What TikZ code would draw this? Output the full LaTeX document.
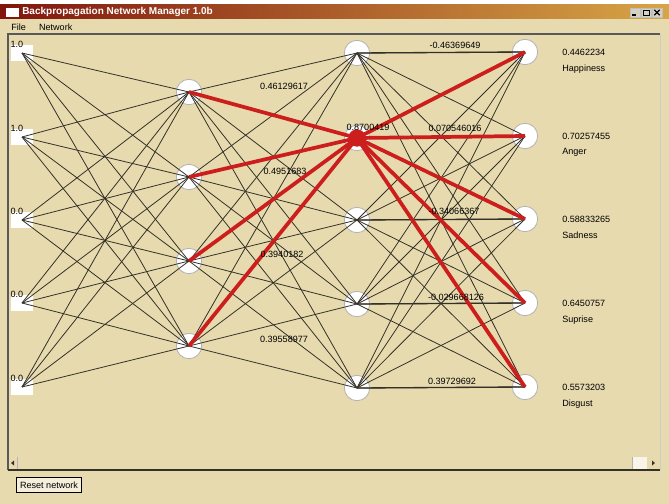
\documentclass[tikz,border=0pt]{standalone}
\usepackage{fontspec}
\setmainfont{Liberation Sans}
\usetikzlibrary{positioning}

\definecolor{panel}{RGB}{231,218,175}
\definecolor{wire}{RGB}{52,50,40}
\definecolor{hot}{RGB}{204,30,28}
\definecolor{barleft}{RGB}{128,22,14}
\definecolor{barright}{RGB}{215,165,70}
\definecolor{btn}{RGB}{214,208,196}

\tikzset{
  unit/.style={circle, draw=gray!60, line width=0.6pt, fill=white, minimum size=19pt, inner sep=0pt},
  inbox/.style={rectangle, fill=white, minimum width=17pt, minimum height=12pt, inner sep=0pt},
  small/.style={font=\fontsize{6.8}{8}\selectfont, inner sep=0pt},
  link/.style={wire, line width=0.6pt},
  rowlink/.style={wire, line width=1pt},
  hotlink/.style={hot, line width=2.8pt},
  outval/.style={small, anchor=west},
  winbtn/.style={rectangle, draw=gray!50, fill=btn, minimum width=7.5pt, minimum height=7pt, inner sep=0pt},
}

\begin{document}
\begin{tikzpicture}[x=0.75pt, y=-0.75pt]
	%% Janela
	\useasboundingbox (0,0) rectangle (669,504);
	\fill[white] (0,0) rectangle (669,504);
	\fill[panel] (0,4) rectangle (669,504);
	\shade[left color=barleft, right color=barright] (0,4) rectangle (669,18);
	\fill[white] (6,8) rectangle (19,17);
	\node[anchor=west, text=white, font=\fontsize{7.5}{9}\bfseries\selectfont, inner sep=0pt] (title) at (22,12) {Backpropagation Network Manager 1.0b};
	
	%% Botoes da janela
	\node[winbtn] (bmin) at (635,12.5) {};
	\node[winbtn] (bmax) at (646,12.5) {};
	\node[winbtn] (bclose) at (657,12.5) {};
	\draw[line width=1.1pt] ([shift={(-2pt,-2pt)}]bmin.center) -- ++(3pt,0);
	\draw[line width=0.5pt] ([shift={(-2.2pt,-2.2pt)}]bmax.center) rectangle ([shift={(2.2pt,2pt)}]bmax.center);
	\draw[line width=0.9pt] ([shift={(-2pt,-2pt)}]bclose.center) -- ([shift={(2pt,2pt)}]bclose.center);
	\draw[line width=0.9pt] ([shift={(-2pt,2pt)}]bclose.center) -- ([shift={(2pt,-2pt)}]bclose.center);
	
	%% Menu
	\node[small, anchor=west] (mfile) at (11,27) {File};
	\node[small, right=9.5pt of mfile] (mnet) {Network};
	
	%% Painel
	\draw[gray!70!black, line width=0.8pt] (8,470) -- (8,34) -- (660,34);
	\draw[gray!40] (660,34) -- (660,470);
	\draw[wire, line width=1.2pt] (8,470) -- (660,470);
	\draw[gray!60] (17,457) -- (17,469);
	\fill[white!70!panel] (633,457) rectangle (647,469);
	\draw[gray!60] (632,457) -- (632,469);
	\fill[wire] (11,463) -- (14,460.5) -- (14,465.5) -- cycle;
	\fill[wire] (655,463) -- (652,460.5) -- (652,465.5) -- cycle;
	\node[draw=black, line width=0.9pt, fill=white!55!panel, small, inner xsep=2.5pt, inner ysep=3pt] (reset) at (49,485) {Reset network};
	
	%% Entradas
	\foreach \y/\v [count=\k] in {53/1.0, 137/1.0, 220/0.0, 303/0.0, 387/0.0}
		\node[inbox, label={[small, anchor=west]north west:\v}] (in\k) at (22,\y) {};
	
	%% Camadas
	\foreach \y [count=\k] in {92,177,261,346}
		\node[unit] (h\k) at (189,\y) {};
	\foreach \y [count=\k] in {53,138,220,304,388}
		\node[unit] (g\k) at (357,\y) {};
	\foreach \y [count=\k] in {52,136,219,303,387}
		\node[unit] (o\k) at (525,\y) {};
	
	%% Ligacoes
	\foreach \i in {1,...,5}
		\foreach \j in {1,...,4}
			\draw[link] (in\i.center) -- (h\j.center);
	\foreach \i in {1,...,4}
		\foreach \j in {1,...,5}
			\draw[link] (h\i.center) -- (g\j.center);
	\foreach \i in {1,...,5}
		\foreach \j in {1,...,5}
			\draw[link] (g\i.center) -- (o\j.center);
	\foreach \i in {1,...,5}
		\draw[rowlink] (g\i.center) -- (o\i.center);
	
	%% Neuronio ativo
	\foreach \j in {1,...,4}
		\draw[hotlink] (g2.center) -- (h\j.center);
	\foreach \j in {1,...,5}
		\draw[hotlink] (g2.center) -- (o\j.center);
	\fill[hot] (g2.center) circle (6.5pt);
	\node[small] (act) at (368,127) {0.8700419};
	
	%% Pesos
	\node[small] (w1) at (284,86) {0.46129617};
	\node[small] (w2) at (285,171) {0.4951683};
	\node[small] (w3) at (282,254) {0.3940182};
	\node[small] (w4) at (284,339) {0.39558977};
	\node[small] (u1) at (455,45) {-0.46369649};
	\node[small] (u2) at (455,128) {0.070546016};
	\node[small] (u3) at (454,211) {-0.34066367};
	\node[small] (u4) at (456,297) {-0.029668126};
	\node[small] (u5) at (452,381) {0.39729692};
	
	%% Saidas
	\foreach \v/\n [count=\k] in {0.4462234/Happiness, 0.70257455/Anger, 0.58833265/Sadness, 0.6450757/Suprise, 0.5573203/Disgust}
	{
		\node[outval, right=18pt of o\k] (v\k) {\v};
		\node[outval, below=12.5pt of v\k.west, anchor=west] (n\k) {\n};
	}
\end{tikzpicture}
\end{document}
